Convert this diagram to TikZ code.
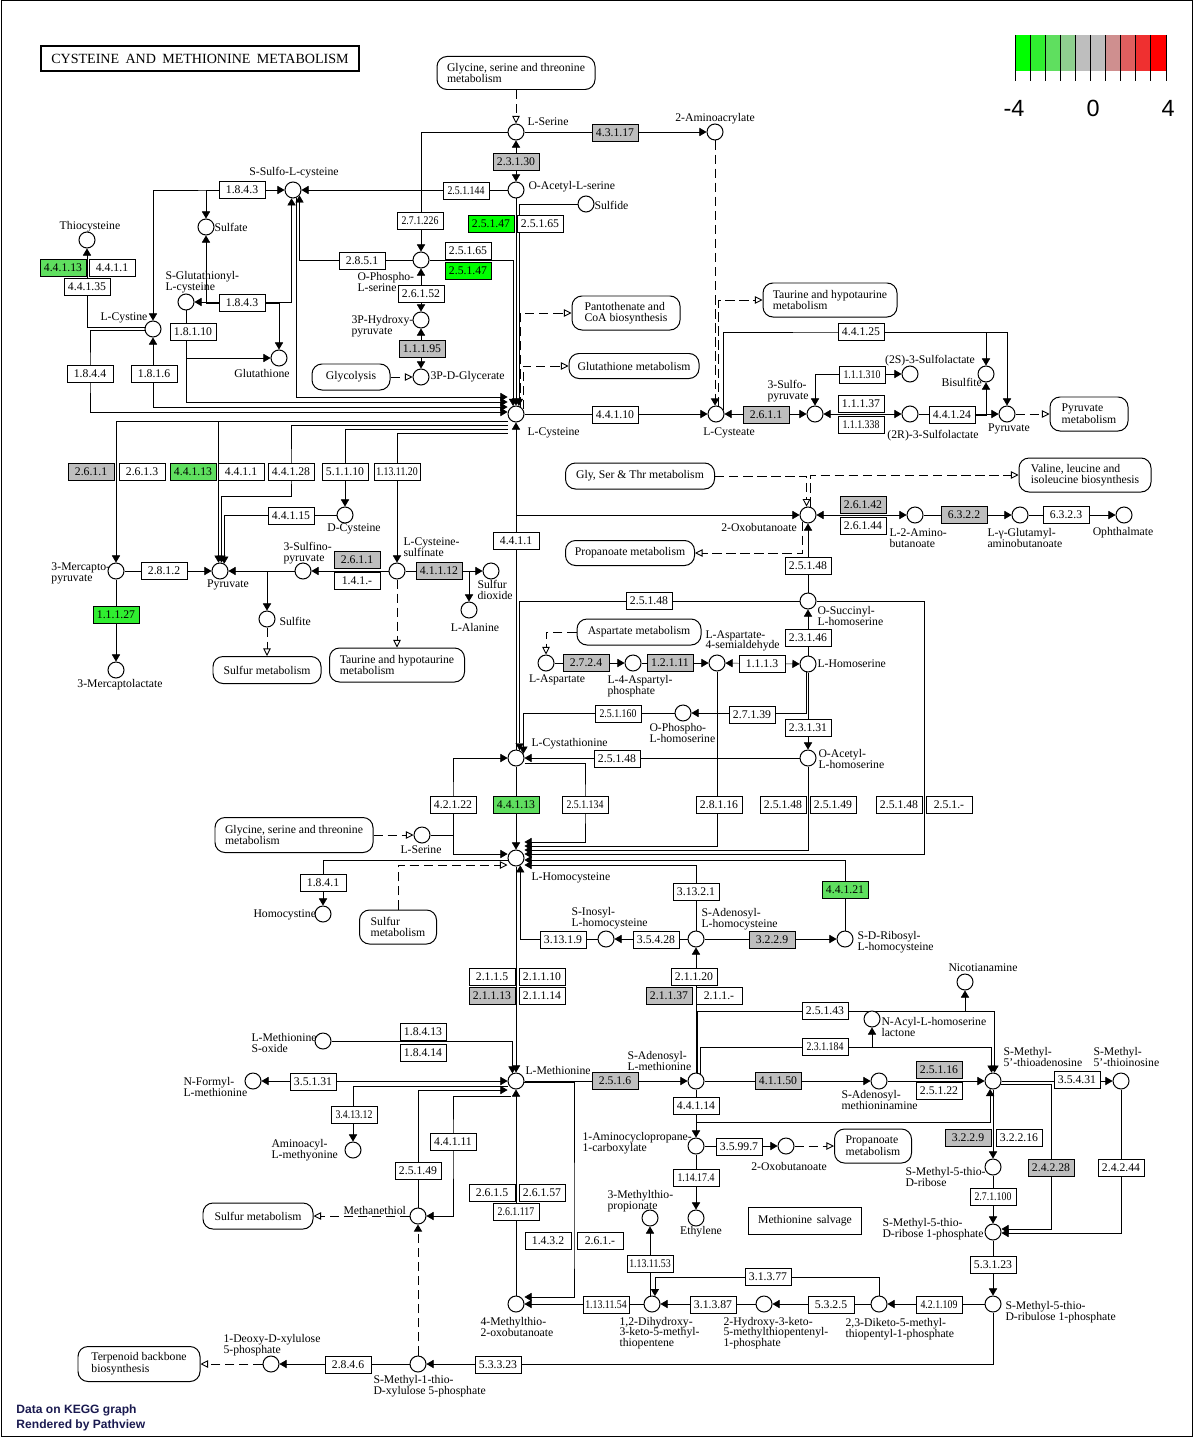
\documentclass[tikz,border=0pt]{standalone}
\usepackage{fontspec}
\setmainfont{Liberation Serif}
\newfontfamily\legendfont{Liberation Sans}
\usepackage{graphicx}
\usetikzlibrary{arrows.meta, positioning, calc}
\pgfdeclarelayer{background}
\pgfsetlayers{background,main}
\definecolor{keggGray}{HTML}{BEBEBE}
\definecolor{fcA}{HTML}{00FF00}
\definecolor{fcB}{HTML}{30EE30}
\definecolor{fcC}{HTML}{5FDF5F}
\definecolor{fcD}{HTML}{8FCF8F}
\definecolor{fcE}{HTML}{CF8F8F}
\definecolor{fcF}{HTML}{DF5F5F}
\definecolor{fcG}{HTML}{EF3030}
\definecolor{fcH}{HTML}{FF0000}
\definecolor{footblue}{HTML}{1A1A50}
\newcommand{\sq}[1]{\scalebox{0.84}[1]{#1}}

\begin{document}
\begin{tikzpicture}[x=0.03cm, y=-0.03cm, line width=0.85pt,
    cpd/.style={circle, draw, fill=white, minimum size=0.48cm, inner sep=0pt},
    enz/.style={rectangle, draw, fill=white, minimum width=1.38cm, minimum height=0.5cm, inner sep=0pt, font=\fontsize{10}{10}\selectfont},
    enzG/.style={enz, fill=keggGray},
    enzL1/.style={enz, fill=fcA},
    enzL2/.style={enz, fill=fcB},
    enzL3/.style={enz, fill=fcC},
    mapbox/.style={rectangle, rounded corners=0.3cm, draw, fill=white, align=left, inner sep=0pt, font=\fontsize{10}{9}\selectfont},
    lbl/.style={inner sep=0pt, align=left, font=\fontsize{10}{9.2}\selectfont},
    rx/.style={-{Triangle[length=6pt,width=7pt]}},
    rxb/.style={{Triangle[length=6pt,width=7pt]}-{Triangle[length=6pt,width=7pt]}},
    maplink/.style={-{Triangle[open,length=6.5pt,width=6.5pt]}, dash pattern=on 8pt off 4pt, line width=0.75pt},
    dashrx/.style={rx, dash pattern=on 8pt off 4pt, line width=0.75pt}
]
    \useasboundingbox (0,0) rectangle (1195,1437);
    \draw (1,1) rectangle (1192,1436);

    % Title and legend
    \node[draw, line width=1.7pt, minimum width=9.54cm, minimum height=0.75cm, inner sep=0pt, font=\fontsize{12}{12}\selectfont] (title) at (200,58.5) {CYSTEINE\hspace{0.45em}AND\hspace{0.45em}METHIONINE\hspace{0.45em}METABOLISM};
    \foreach \c [count=\i from 0] in {fcA,fcB,fcC,fcD,keggGray,keggGray,fcE,fcF,fcG,fcH}
        \fill[\c] (1015+\i*15.1,35) rectangle ++(15.1,36);
    \foreach \i in {0,...,10}
        \draw (1015+\i*15.1,35) -- ++(0,46);
    \node[font=\legendfont\fontsize{20}{20}\selectfont] (legLo) at (1014,108) {-4};
    \node[font=\legendfont\fontsize{20}{20}\selectfont] (legMid) at (1093,108) {0};
    \node[font=\legendfont\fontsize{20}{20}\selectfont] (legHi) at (1168,108) {4};
    \node[anchor=west, align=left, inner sep=0pt, text=footblue, font=\legendfont\bfseries\fontsize{10.3}{12.8}\selectfont] (footer) at (16,1418) {Data on KEGG graph\\Rendered by Pathview};

    % Pathway maps
    \node[mapbox, minimum width=4.74cm, minimum height=0.99cm] (mGly1) at (516,73) {Glycine, serine and threonine\\metabolism};
    \node[mapbox, minimum width=3.24cm, minimum height=1.02cm] (mPanto) at (626,313) {Pantothenate and\\CoA biosynthesis};
    \node[mapbox, minimum width=3.9cm, minimum height=0.75cm] (mGSH) at (634,366) {Glutathione metabolism};
    \node[mapbox, minimum width=2.34cm, minimum height=0.78cm] (mGlyc) at (351,377) {Glycolysis};
    \node[mapbox, minimum width=4.02cm, minimum height=1.02cm] (mTau1) at (830,300) {Taurine and hypotaurine\\metabolism};
    \node[mapbox, minimum width=2.34cm, minimum height=1.02cm] (mPyr) at (1089,414) {Pyruvate\\metabolism};
    \node[mapbox, minimum width=4.47cm, minimum height=0.78cm] (mGST) at (640,476) {Gly, Ser \& Thr metabolism};
    \node[mapbox, minimum width=3.96cm, minimum height=1.02cm] (mVal) at (1085,475) {Valine, leucine and\\isoleucine biosynthesis};
    \node[mapbox, minimum width=3.87cm, minimum height=0.75cm] (mProp1) at (630,553) {Propanoate metabolism};
    \node[mapbox, minimum width=3.24cm, minimum height=0.81cm] (mSulf1) at (267,670) {Sulfur metabolism};
    \node[mapbox, minimum width=4.05cm, minimum height=1.02cm] (mTau2) at (397,665) {Taurine and hypotaurine\\metabolism};
    \node[mapbox, minimum width=3.72cm, minimum height=0.78cm] (mAsp) at (639,632) {Aspartate metabolism};
    \node[mapbox, minimum width=4.74cm, minimum height=1.05cm] (mGly2) at (294,835) {Glycine, serine and threonine\\metabolism};
    \node[mapbox, minimum width=2.31cm, minimum height=1.02cm] (mSulf2) at (398,927) {Sulfur\\metabolism};
    \node[mapbox, minimum width=2.31cm, minimum height=1.02cm] (mProp2) at (873,1146) {Propanoate\\metabolism};
    \node[mapbox, minimum width=3.3cm, minimum height=0.78cm] (mSulf3) at (258,1216) {Sulfur metabolism};
    \node[mapbox, minimum width=3.66cm, minimum height=1.05cm] (mTerp) at (139,1364) {Terpenoid backbone\\biosynthesis};
    \node[draw, fill=white, inner sep=0pt, minimum width=3.39cm, minimum height=0.81cm, font=\fontsize{10}{10}\selectfont] (mSalv) at (805,1221) {Methionine\hspace{0.4em}salvage};

    % Compounds
    \node[cpd] (cSer) at (516,132) {};
    \node[cpd] (cOAS) at (516,190) {};
    \node[cpd] (cSulfide) at (586,204) {};
    \node[cpd] (cAmAcr) at (715,132) {};
    \node[cpd] (cSSC) at (293,190) {};
    \node[cpd] (cSulfate) at (206,227) {};
    \node[cpd] (cThio) at (87,240) {};
    \node[cpd] (cSGC) at (186,302) {};
    \node[cpd] (cCystine) at (153,329) {};
    \node[cpd] (cGSH) at (279,358) {};
    \node[cpd] (cOPS) at (421,260) {};
    \node[cpd] (cHPyr) at (421,320) {};
    \node[cpd] (cPG) at (421,377) {};
    \node[cpd] (cCys) at (516,414) {};
    \node[cpd] (cCya) at (716,414) {};
    \node[cpd] (cSPyr) at (815,414) {};
    \node[cpd] (cSLS) at (910,374) {};
    \node[cpd] (cSLR) at (910,414) {};
    \node[cpd] (cBisulf) at (986,374) {};
    \node[cpd] (cPyrR) at (1007,414) {};
    \node[cpd] (cMPyr) at (116,571) {};
    \node[cpd] (cPyr) at (220,571) {};
    \node[cpd] (cSiPyr) at (303,571) {};
    \node[cpd] (cSulfite) at (267,619) {};
    \node[cpd] (cCSA) at (397,571) {};
    \node[cpd] (cSO2) at (491,571) {};
    \node[cpd] (cAla) at (469,610) {};
    \node[cpd] (cDCys) at (345,515) {};
    \node[cpd] (cMLac) at (116,670) {};
    \node[cpd] (cOxo) at (808,515) {};
    \node[cpd] (cAbu) at (915,515) {};
    \node[cpd] (cGAbu) at (1020,515) {};
    \node[cpd] (cOph) at (1124,515) {};
    \node[cpd] (cOSH) at (808,601) {};
    \node[cpd] (cHser) at (808,664) {};
    \node[cpd] (cASA) at (717,663) {};
    \node[cpd] (cAspP) at (633,663) {};
    \node[cpd] (cAsp) at (546,663) {};
    \node[cpd] (cOPH) at (683,713) {};
    \node[cpd] (cOAH) at (808,758) {};
    \node[cpd] (cCth) at (516,758) {};
    \node[cpd] (cSer2) at (422,835) {};
    \node[cpd] (cHcy) at (516,858) {};
    \node[cpd] (cHcyst) at (323,914) {};
    \node[cpd] (cSIH) at (606,939) {};
    \node[cpd] (cSAH) at (696,939) {};
    \node[cpd] (cSRH) at (845,939) {};
    \node[cpd] (cNicot) at (965,982) {};
    \node[cpd] (cAHL) at (872,1019) {};
    \node[cpd] (cMetSO) at (323,1041) {};
    \node[cpd] (cMet) at (516,1081) {};
    \node[cpd] (cFMet) at (253,1081) {};
    \node[cpd] (cSAM) at (696,1081) {};
    \node[cpd] (cdcSAM) at (879,1081) {};
    \node[cpd] (cMTA) at (993,1081) {};
    \node[cpd] (cMTI) at (1121,1081) {};
    \node[cpd] (cAaMet) at (353,1150) {};
    \node[cpd] (cACC) at (696,1146) {};
    \node[cpd] (cOxo2) at (786,1146) {};
    \node[cpd] (cEth) at (696,1218) {};
    \node[cpd] (cMTP) at (650,1218) {};
    \node[cpd] (cMTR) at (993,1167) {};
    \node[cpd] (cMeSH) at (418,1216) {};
    \node[cpd] (cMTRP) at (993,1232) {};
    \node[cpd] (cKMTB) at (516,1304) {};
    \node[cpd] (cDHK) at (652,1304) {};
    \node[cpd] (cHK) at (764,1304) {};
    \node[cpd] (cDK) at (879,1304) {};
    \node[cpd] (cMTRu) at (993,1304) {};
    \node[cpd] (cDXP) at (271,1364) {};
    \node[cpd] (cMTXu) at (418,1364) {};

    % Compound labels
    \node[lbl, anchor=west] (lSer) at (527,122) {L-Serine};
    \node[lbl] (lAmAcr) at (715,119) {2-Aminoacrylate};
    \node[lbl, anchor=west] (lOAS) at (528,187) {O-Acetyl-L-serine};
    \node[lbl, anchor=west] (lSulfide) at (594,205) {Sulfide};
    \node[lbl] (lSSC) at (294,173) {S-Sulfo-L-cysteine};
    \node[lbl, anchor=west] (lSulfate) at (214,227) {Sulfate};
    \node[lbl] (lThio) at (90,227) {Thiocysteine};
    \node[lbl, anchor=west] (lSGC) at (165,282) {S-Glutathionyl-\\L-cysteine};
    \node[lbl] (lCystine) at (124,318) {L-Cystine};
    \node[lbl] (lGSH) at (262,373) {Glutathione};
    \node[lbl, anchor=west] (lOPS) at (357,282) {O-Phospho-\\L-serine};
    \node[lbl, anchor=west] (lHPyr) at (351,326) {3P-Hydroxy-\\pyruvate};
    \node[lbl, anchor=west] (lPG) at (430,377) {3P-D-Glycerate};
    \node[lbl, anchor=west] (lCys) at (527,433) {L-Cysteine};
    \node[lbl] (lCya) at (729,433) {L-Cysteate};
    \node[lbl, anchor=west] (lSPyr) at (767,391) {3-Sulfo-\\pyruvate};
    \node[lbl] (lSLS) at (930,361) {(2S)-3-Sulfolactate};
    \node[lbl] (lSLR) at (933,436) {(2R)-3-Sulfolactate};
    \node[lbl, anchor=west] (lBisulf) at (941,382) {Bisulfite};
    \node[lbl] (lPyrR) at (1009,429) {Pyruvate};
    \node[lbl, anchor=west] (lMPyr) at (51,573) {3-Mercapto-\\pyruvate};
    \node[lbl] (lPyr) at (228,585) {Pyruvate};
    \node[lbl, anchor=west] (lSiPyr) at (283,553) {3-Sulfino-\\pyruvate};
    \node[lbl, anchor=west] (lSulfite) at (279,621) {Sulfite};
    \node[lbl, anchor=west] (lCSA) at (403,547) {L-Cysteine-\\sulfinate};
    \node[lbl, anchor=west] (lSO2) at (477,590) {Sulfur\\dioxide};
    \node[lbl] (lAla) at (475,627) {L-Alanine};
    \node[lbl] (lDCys) at (354,529) {D-Cysteine};
    \node[lbl] (lMLac) at (120,685) {3-Mercaptolactate};
    \node[lbl] (lOxo) at (759,527) {2-Oxobutanoate};
    \node[lbl, anchor=west] (lAbu) at (889,538) {L-2-Amino-\\butanoate};
    \node[lbl, anchor=west] (lGAbu) at (987,538) {L-γ-Glutamyl-\\aminobutanoate};
    \node[lbl] (lOph) at (1123,533) {Ophthalmate};
    \node[lbl, anchor=west] (lOSH) at (817,616) {O-Succinyl-\\L-homoserine};
    \node[lbl, anchor=west] (lHser) at (817,664) {L-Homoserine};
    \node[lbl, anchor=west] (lASA) at (705,641) {L-Aspartate-\\4-semialdehyde};
    \node[lbl, anchor=west] (lAspP) at (607,686) {L-4-Aspartyl-\\phosphate};
    \node[lbl] (lAsp) at (557,680) {L-Aspartate};
    \node[lbl, anchor=west] (lOPH) at (649,733) {O-Phospho-\\L-homoserine};
    \node[lbl, anchor=west] (lOAH) at (818,759) {O-Acetyl-\\L-homoserine};
    \node[lbl, anchor=west] (lCth) at (531,744) {L-Cystathionine};
    \node[lbl] (lSer2) at (421,850) {L-Serine};
    \node[lbl, anchor=west] (lHcy) at (531,878) {L-Homocysteine};
    \node[lbl, anchor=west] (lHcyst) at (253,915) {Homocystine};
    \node[lbl, anchor=west] (lSIH) at (571,918) {S-Inosyl-\\L-homocysteine};
    \node[lbl, anchor=west] (lSAH) at (701,919) {S-Adenosyl-\\L-homocysteine};
    \node[lbl, anchor=west] (lSRH) at (857,942) {S-D-Ribosyl-\\L-homocysteine};
    \node[lbl] (lNicot) at (983,968) {Nicotianamine};
    \node[lbl, anchor=west] (lAHL) at (881,1027) {N-Acyl-L-homoserine\\lactone};
    \node[lbl, anchor=west] (lMetSO) at (251,1043) {L-Methionine\\S-oxide};
    \node[lbl, anchor=west] (lMet) at (525,1070) {L-Methionine};
    \node[lbl, anchor=west] (lFMet) at (183,1087) {N-Formyl-\\L-methionine};
    \node[lbl, anchor=west] (lSAM) at (627,1061) {S-Adenosyl-\\L-methionine};
    \node[lbl, anchor=west] (ldcSAM) at (841,1100) {S-Adenosyl-\\methioninamine};
    \node[lbl, anchor=west] (lMTA) at (1003,1057) {S-Methyl-\\5'-thioadenosine};
    \node[lbl, anchor=west] (lMTI) at (1093,1057) {S-Methyl-\\5'-thioinosine};
    \node[lbl, anchor=west] (lAaMet) at (271,1150) {Aminoacyl-\\L-methyonine};
    \node[lbl, anchor=west] (lACC) at (582,1143) {1-Aminocyclopropane-\\1-carboxylate};
    \node[lbl] (lOxo2) at (789,1166) {2-Oxobutanoate};
    \node[lbl] (lEth) at (701,1232) {Ethylene};
    \node[lbl, anchor=west] (lMTP) at (607,1201) {3-Methylthio-\\propionate};
    \node[lbl, anchor=west] (lMTR) at (905,1177) {S-Methyl-5-thio-\\D-ribose};
    \node[lbl, anchor=west] (lMeSH) at (343,1210) {Methanethiol};
    \node[lbl, anchor=west] (lMTRP) at (882,1229) {S-Methyl-5-thio-\\D-ribose 1-phosphate};
    \node[lbl, anchor=west] (lKMTB) at (480,1327) {4-Methylthio-\\2-oxobutanoate};
    \node[lbl, anchor=west] (lDHK) at (619,1333) {1,2-Dihydroxy-\\3-keto-5-methyl-\\thiopentene};
    \node[lbl, anchor=west] (lHK) at (723,1333) {2-Hydroxy-3-keto-\\5-methylthiopentenyl-\\1-phosphate};
    \node[lbl, anchor=west] (lDK) at (845,1329) {2,3-Diketo-5-methyl-\\thiopentyl-1-phosphate};
    \node[lbl, anchor=west] (lMTRu) at (1005,1312) {S-Methyl-5-thio-\\D-ribulose 1-phosphate};
    \node[lbl, anchor=west] (lDXP) at (223,1345) {1-Deoxy-D-xylulose\\5-phosphate};
    \node[lbl, anchor=west] (lMTXu) at (373,1386) {S-Methyl-1-thio-\\D-xylulose 5-phosphate};

    % Enzymes
    \node[enzG] (e43117) at (615,133) {4.3.1.17};
    \node[enzG] (e23130) at (516,162) {2.3.1.30};
    \node[enz] (e251144) at (466,191) {\sq{2.5.1.144}};
    \node[enzL1] (e25147a) at (491,224) {2.5.1.47};
    \node[enz] (e25165a) at (540,224) {2.5.1.65};
    \node[enz] (e271226) at (420,221) {\sq{2.7.1.226}};
    \node[enz] (e25165b) at (468,251) {2.5.1.65};
    \node[enzL1] (e25147b) at (468,271) {2.5.1.47};
    \node[enz] (e2851) at (362,261) {2.8.5.1};
    \node[enz] (e26152) at (421,294) {2.6.1.52};
    \node[enzG] (e11195) at (422,349) {1.1.1.95};
    \node[enz] (e1843a) at (242,190) {1.8.4.3};
    \node[enz] (e1843b) at (242,303) {1.8.4.3};
    \node[enz] (e18110) at (193,332) {1.8.1.10};
    \node[enzL3] (e44113a) at (63,268) {4.4.1.13};
    \node[enz] (e4411a) at (112,268) {4.4.1.1};
    \node[enz] (e44135) at (87,287) {4.4.1.35};
    \node[enz] (e1844) at (90,374) {1.8.4.4};
    \node[enz] (e1816) at (154,374) {1.8.1.6};
    \node[enz] (e44110) at (615,415) {4.4.1.10};
    \node[enzG] (e2611a) at (766,415) {2.6.1.1};
    \node[enz] (e111310) at (862,375) {\sq{1.1.1.310}};
    \node[enz] (e11137) at (861,404) {1.1.1.37};
    \node[enz] (e111338) at (861,425) {\sq{1.1.1.338}};
    \node[enz] (e44124) at (952,415) {4.4.1.24};
    \node[enz] (e44125) at (861,332) {4.4.1.25};
    \node[enzG] (e2611b) at (91,472) {2.6.1.1};
    \node[enz] (e2613) at (142,472) {2.6.1.3};
    \node[enzL3] (e44113b) at (193,472) {4.4.1.13};
    \node[enz] (e4411b) at (241,472) {4.4.1.1};
    \node[enz] (e44128) at (291,472) {4.4.1.28};
    \node[enz] (e51110) at (345,472) {5.1.1.10};
    \node[enz] (e131120) at (397,472) {\sq{1.13.11.20}};
    \node[enz] (e44115) at (291,516) {4.4.1.15};
    \node[enz] (e2812) at (164,571) {2.8.1.2};
    \node[enzG] (e2611c) at (357,560) {2.6.1.1};
    \node[enz] (e141) at (357,581) {1.4.1.-};
    \node[enzG] (e41112) at (439,571) {4.1.1.12};
    \node[enzL2] (e11127) at (116,615) {1.1.1.27};
    \node[enz] (e4411c) at (516,541) {4.4.1.1};
    \node[enzG] (e26142) at (863,505) {2.6.1.42};
    \node[enz] (e26144) at (863,526) {2.6.1.44};
    \node[enzG] (e6322) at (964,515) {6.3.2.2};
    \node[enz] (e6323) at (1066,515) {6.3.2.3};
    \node[enz] (e25148a) at (808,566) {2.5.1.48};
    \node[enz] (e25148b) at (649,601) {2.5.1.48};
    \node[enz] (e23146) at (808,638) {2.3.1.46};
    \node[enzG] (e2724) at (586,663) {2.7.2.4};
    \node[enzG] (e12111) at (670,663) {1.2.1.11};
    \node[enz] (e1113) at (762,664) {1.1.1.3};
    \node[enz] (e251160) at (618,714) {\sq{2.5.1.160}};
    \node[enz] (e27139) at (752,715) {2.7.1.39};
    \node[enz] (e23131) at (808,728) {2.3.1.31};
    \node[enz] (e25148c) at (617,759) {2.5.1.48};
    \node[enz] (e42122) at (453,805) {4.2.1.22};
    \node[enzL3] (e44113c) at (516,805) {4.4.1.13};
    \node[enz] (e251134) at (585,805) {\sq{2.5.1.134}};
    \node[enz] (e28116) at (719,805) {2.8.1.16};
    \node[enz] (e25148d) at (783,805) {2.5.1.48};
    \node[enz] (e25149a) at (833,805) {2.5.1.49};
    \node[enz] (e25148e) at (899,805) {2.5.1.48};
    \node[enz] (e251x) at (949,805) {2.5.1.-};
    \node[enz] (e1841) at (323,883) {1.8.4.1};
    \node[enz] (e31321) at (696,892) {3.13.2.1};
    \node[enzL3] (e44121) at (845,890) {4.4.1.21};
    \node[enz] (e31319) at (563,940) {3.13.1.9};
    \node[enz] (e35428) at (656,940) {3.5.4.28};
    \node[enzG] (e3229a) at (772,940) {3.2.2.9};
    \node[enz] (e2115) at (492,977) {2.1.1.5};
    \node[enz] (e21110) at (542,977) {2.1.1.10};
    \node[enzG] (e21113) at (492,996) {2.1.1.13};
    \node[enz] (e21114) at (542,996) {2.1.1.14};
    \node[enz] (e21120) at (694,977) {2.1.1.20};
    \node[enzG] (e21137) at (669,996) {2.1.1.37};
    \node[enz] (e211x) at (719,996) {2.1.1.-};
    \node[enz] (e25143) at (825,1011) {2.5.1.43};
    \node[enz] (e231184) at (825,1047) {\sq{2.3.1.184}};
    \node[enz] (e18413) at (423,1032) {1.8.4.13};
    \node[enz] (e18414) at (423,1053) {1.8.4.14};
    \node[enz] (e35131) at (313,1082) {3.5.1.31};
    \node[enzG] (e2516) at (615,1081) {2.5.1.6};
    \node[enzG] (e41150) at (778,1081) {4.1.1.50};
    \node[enzG] (e25116) at (939,1070) {2.5.1.16};
    \node[enz] (e25122) at (939,1091) {2.5.1.22};
    \node[enz] (e35431) at (1077,1080) {3.5.4.31};
    \node[enz] (e341312) at (354,1115) {\sq{3.4.13.12}};
    \node[enz] (e44114) at (696,1106) {4.4.1.14};
    \node[enz] (e44111) at (453,1142) {4.4.1.11};
    \node[enz] (e25149b) at (418,1171) {2.5.1.49};
    \node[enz] (e35997) at (739,1147) {3.5.99.7};
    \node[enzG] (e3229b) at (968,1138) {3.2.2.9};
    \node[enz] (e32216) at (1019,1138) {3.2.2.16};
    \node[enzG] (e24228) at (1051,1168) {2.4.2.28};
    \node[enz] (e24244) at (1121,1168) {2.4.2.44};
    \node[enz] (e114174) at (696,1178) {\sq{1.14.17.4}};
    \node[enz] (e2615) at (492,1193) {2.6.1.5};
    \node[enz] (e26157) at (542,1193) {2.6.1.57};
    \node[enz] (e261117) at (516,1212) {\sq{2.6.1.117}};
    \node[enz] (e271100) at (993,1197) {\sq{2.7.1.100}};
    \node[enz] (e1432) at (548,1241) {1.4.3.2};
    \node[enz] (e261x) at (600,1241) {2.6.1.-};
    \node[enz] (e1131153) at (650,1264) {\sq{1.13.11.53}};
    \node[enz] (e53123) at (993,1265) {5.3.1.23};
    \node[enz] (e31377) at (768,1277) {3.1.3.77};
    \node[enz] (e1131154) at (606,1305) {\sq{1.13.11.54}};
    \node[enz] (e31387) at (713,1305) {3.1.3.87};
    \node[enz] (e5325) at (831,1305) {5.3.2.5};
    \node[enz] (e421109) at (939,1305) {\sq{4.2.1.109}};
    \node[enz] (e2846) at (348,1365) {2.8.4.6};
    \node[enz] (e53323) at (498,1365) {5.3.3.23};

    % Connectors
    \begin{pgfonlayer}{background}
    % serine and sulfur assimilation
    \draw[maplink] (mGly1) -- (cSer);
    \draw[rx] (cSer) -- (cAmAcr);
    \draw[rxb] (cSer) -- (cOAS);
    \draw[rx] (cOAS) -- (cSSC);
    \draw[rx] (cOAS) -- (cCys);
    \draw[rx] (cSulfide) -| (cCys.70);
    \draw[rx] (cSer) -| (cOPS);
    \draw[rx] (cOPS) -| (cCys.110);
    \draw[rx] (cOPS) -| (cSSC.-40);
    \draw[rxb] (cHPyr) -- (cOPS);
    \draw[rxb] (cPG) -- (cHPyr);
    \draw[maplink] (mGlyc) -- (cPG);
    % cystine side
    \draw[rxb] (cCystine) |- (e1843a.center) -- (cSSC);
    \draw[rx] (e1843a.center) -| (cSulfate);
    \draw[rxb] (cSGC) -| (cSSC.-100);
    \draw[rx] (e1843b.center) -| (cGSH);
    \draw[rx] (e1843b.center) -| (cSulfate);
    \draw[rx] (cCystine.170) -| (cThio);
    \draw[rx] (cSGC) |- (cGSH);
    \draw[rx] (cSSC.-70) |- ($(cCys.west)+(0,-17)$);
    \draw[rx] (cSGC) |- ($(cCys.west)+(0,-12)$);
    \draw[rxb] (cCystine) |- ($(cCys.west)+(0,-7)$);
    \draw[rx] (cCystine.190) -| (e1844.center) |- ($(cCys.west)+(0,-2)$);
    % cysteine degradation
    \draw[rx] ($(cCys.west)+(0,7)$) -| (cMPyr);
    \draw[rx] ($(cCys.west)+(0,7)$) -| (cPyr.100);
    \draw[rx] ($(cCys.west)+(0,11)$) -| (e44128.center) -- ++(0,24) -| (cPyr.80);
    \draw[rx] (cDCys) -| (cPyr.60);
    \draw[rx] ($(cCys.west)+(0,15)$) -| (cDCys);
    \draw[rx] ($(cCys.west)+(0,19)$) -| (cCSA);
    \draw[rx] (cMPyr) -- (cPyr);
    \draw[rx] (cCSA) -- (cSiPyr);
    \draw[rx] (cSiPyr) -- (cPyr);
    \draw[rx] (cSiPyr) -| (cSulfite);
    \draw[maplink] (cSulfite) -- (mSulf1);
    \draw[rx] (cCSA) -- (cSO2);
    \draw[rx] (cCSA) -| (cAla);
    \draw[maplink] (cCSA) -- (mTau2);
    \draw[rx] (cMPyr) -- (cMLac);
    % cysteate branch
    \draw[rx] (cCys) -- (cCya);
    \draw[rxb] (cSPyr) -- (cCya);
    \draw[rxb] (cSPyr) |- (cSLS);
    \draw[rxb] (cSPyr) -- (cSLR);
    \draw[rx] (cSLR) -- (cPyrR);
    \draw[rx] (e44124.center) -| (cBisulf);
    \draw[maplink] (cPyrR) -- (mPyr);
    \draw[rx] (cCya.30) |- (e44125.center) -| (cPyrR);
    \draw[rx] (e44125.center) -| (cBisulf);
    \draw[dashrx] (cAmAcr) -- (cAmAcr |- cCya.north);
    \draw[maplink] (cCya.70) |- (mTau1);
    \draw[maplink] (cCys.60) |- (mPanto);
    \draw[maplink] (cCys.35) |- (mGSH);
    % 2-oxobutanoate
    \draw[rx] (cCth) -- (cCys);
    \draw[rx] (e4411c.center) |- (cOxo);
    \draw[maplink] (mGST) -| (cOxo.100);
    \draw[maplink] (cOxo.75) |- (mVal);
    \draw[maplink] (cOxo.-130) |- (mProp1);
    \draw[rxb] (cOxo) -- (cAbu);
    \draw[rx] (cAbu) -- (cGAbu);
    \draw[rx] (cGAbu) -- (cOph);
    \draw[rx] (cOSH) -- (cOxo);
    \draw[rx] (cHser) -- (cOSH);
    \draw[rx] (cOSH) -| (cCth.65);
    \draw[rx] (cOSH) -| ($(e25148e.east)!0.5!(e251x.west)$) |- ($(cHcy.east)+(0,-4)$);
    % aspartate and homoserine
    \draw[maplink] (mAsp) -| (cAsp);
    \draw[rx] (cAsp) -- (cAspP);
    \draw[rx] (cAspP) -- (cASA);
    \draw[rxb] (cHser) -- (cASA);
    \draw[rx] (cHser.-100) |- (cOPH);
    \draw[rx] (cOPH) -| (cCth.30);
    \draw[rx] (cHser) -- (cOAH);
    \draw[rx] (cOAH) -- (cCth);
    \draw[rx] (cOAH) |- ($(cHcy.east)+(0,-8)$);
    \draw[rx] (cASA) |- ($(cHcy.east)+(0,-12)$);
    % cystathionine and homocysteine
    \draw[rx] (cCth) -- (cHcy);
    \draw[rx] (cSer2) -| (e42122.center) |- (cCth);
    \draw[rx] (e42122.center) |- ($(cHcy.west)+(0,-4)$);
    \draw[maplink] (mGly2) -- (cSer2);
    \draw[rx] ($(cCth.east)+(0,5)$) -| (e251134.center) |- ($(cHcy.east)+(0,-16)$);
    \draw[maplink] (mSulf2) |- ($(cHcy.west)+(0,7)$);
    \draw[rx] ($(cHcy.west)+(0,2)$) -| (cHcyst);
    \draw[rx] (cSRH) |- ($(cHcy.east)+(0,2)$);
    \draw[rx] (cSAH) |- ($(cHcy.east)+(0,7)$);
    \draw[rx] (cSAH) -- (cSIH);
    \draw[rx] (cSIH) -| (cHcy.-60);
    \draw[rx] (cSAH) -- (cSRH);
    \draw[rx] (cHcy) -- (cMet);
    \draw[rx] (cSAM) -- (cSAH);
    % methionine and SAM
    \draw[rx] (cMet) -- (cSAM);
    \draw[rx] (cSAM) -- (cdcSAM);
    \draw[rx] (cdcSAM) -- (cMTA);
    \draw[rx] (cSAM.80) |- (e25143.center) -| (cMTA.80);
    \draw[rx] (e25143.center) -| (cNicot);
    \draw[rx] (cSAM.60) |- (e231184.center) -| (cMTA.100);
    \draw[rx] (e231184.center) -| (cAHL);
    \draw[rx] (cMTA) -- (cMTI);
    \draw[rx] (cMTI) |- ($(cMTRP.east)+(0,1)$);
    \draw[rx] (cMTA.-20) -| (e24228.center) |- ($(cMTRP.east)+(0,-3)$);
    \draw[rx] (cMTA) -- (cMTR);
    \draw[rx] (e44114.center) -- ++(0,16) -| (cMTA.-110);
    \draw[rx] (cSAM) -- (cACC);
    \draw[rx] (cACC) -- (cOxo2);
    \draw[maplink] (cOxo2) -- (mProp2);
    \draw[rx] (cACC) -- (cEth);
    % methionine salvage
    \draw[rx] (cMTR) -- (cMTRP);
    \draw[rx] (cMTRP) -- (cMTRu);
    \draw[rx] (cMTRu) -- (cDK);
    \draw[rx] (cDK) -- (cHK);
    \draw[rx] (cHK) -- (cDHK);
    \draw[rx] (cDK) |- (e31377.center) -| (cDHK.70);
    \draw[rx] (cDHK) -- (cKMTB);
    \draw[rx] (cDHK.north -| cMTP) -- (cMTP);
    \draw[rx] (cKMTB) -- (cMet);
    \draw[rx] (cMet.-10) -| ($(e1432.east)!0.5!(e261x.west)$) |- ($(cKMTB.east)+(0,-7)$);
    \draw[rx] (cMTRu) |- (cMTXu);
    \draw[rx] (cMTXu) -- (cDXP);
    \draw[maplink] (cDXP) -- (mTerp);
    \draw[dashrx] (cMTXu) -- (cMeSH);
    \draw[maplink] (cMeSH) -- (mSulf3);
    \draw[rx] ($(cMet.west)+(3,15)$) -| (e44111.center) |- (cMeSH);
    \draw[rx] (cMeSH) |- ($(cMet.west)+(0,9)$);
    \draw[rx] (cMetSO) -| (cMet.115);
    \draw[rxb] (cFMet) -- (cMet);
    \draw[rx] ($(cMet.west)+(0,5)$) -| (cAaMet);
    \end{pgfonlayer}
\end{tikzpicture}
\end{document}
